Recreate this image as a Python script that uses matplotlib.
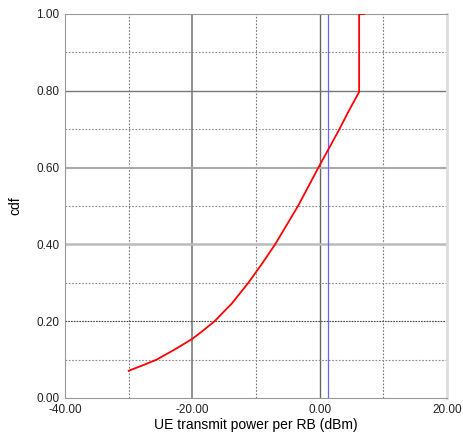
import numpy as np
import matplotlib.pyplot as plt

plt.rcParams['font.family'] = ['Liberation Sans', 'DejaVu Sans']

# cdf curve
power_dbm = [-30.0, -27.8, -25.6, -22.8, -20.0, -18.2, -16.5, -13.8, -11.2, -9.05,
             -7.0, -5.2, -3.4, -1.8, -0.2, 1.45, 3.1, 4.65, 6.2, 6.2, 7.0]
cdf = [0.071, 0.085, 0.100, 0.126, 0.154, 0.177, 0.200, 0.246, 0.300, 0.350,
       0.400, 0.450, 0.500, 0.550, 0.600, 0.650, 0.700, 0.750, 0.797, 1.0, 1.0]

# blue reference line
ref_dbm = 1.3

x_ticks = [-40, -20, 0, 20]
y_ticks = [0.0, 0.2, 0.4, 0.6, 0.8, 1.0]

fig = plt.figure(figsize=(4.64, 4.37), dpi=100)
ax = fig.add_axes([65 / 464, 39 / 437, 382 / 464, 384 / 437])

# grid lines
for x in [-30, -10, 10]:
    ax.axvline(x, color='#777777', lw=0.8, ls=(0, (1.5, 1.5)), zorder=1)
ax.axvline(-20, color='#888888', lw=1.3, zorder=1)
ax.axvline(0, color='#666666', lw=1.0, zorder=1)
for y in [0.1, 0.3, 0.5, 0.7, 0.9]:
    ax.axhline(y, color='#888888', lw=0.8, ls=(0, (1.5, 1.5)), zorder=1)
ax.axhline(0.2, color='#444444', lw=0.8, ls=(0, (1.5, 1.0)), zorder=1)
ax.axhline(0.4, color='#bbbbbb', lw=1.8, zorder=1)
ax.axhline(0.6, color='#aaaaaa', lw=1.5, zorder=1)
ax.axhline(0.8, color='#777777', lw=1.0, zorder=1)
ax.axhline(1.0, color='#888888', lw=1.2, zorder=1)

ax.axvline(ref_dbm, color='#6666ff', lw=0.9, zorder=2)
ax.plot(power_dbm, cdf, color='red', lw=1.3, zorder=3)

ax.set_xlim(-40, 20)
ax.set_ylim(0, 1)
ax.set_xticks(x_ticks)
ax.set_yticks(y_ticks)
ax.set_xticklabels([f'{v:.2f}' for v in x_ticks])
ax.set_yticklabels([f'{v:.2f}' for v in y_ticks])
ax.tick_params(length=0, labelsize=8.5, pad=4, colors='#222222')

for side in ['left', 'bottom', 'top']:
    ax.spines[side].set_color('#999999')
    ax.spines[side].set_linewidth(0.8)
ax.spines['right'].set_color('#dddddd')
ax.spines['right'].set_linewidth(2)

ax.set_xlabel('UE transmit power per RB (dBm)', fontsize=10, labelpad=2)
ax.set_ylabel('cdf', fontsize=10, labelpad=10)

fig.savefig('out.png', dpi=100)
